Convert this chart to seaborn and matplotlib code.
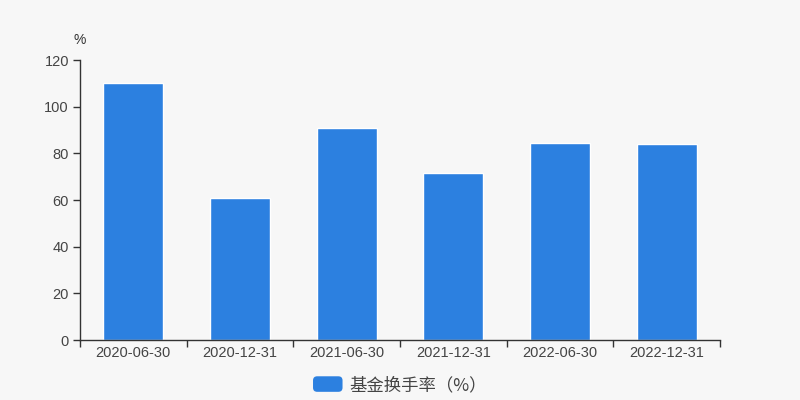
import pandas as pd
import matplotlib.pyplot as plt
import seaborn as sns
from matplotlib.patches import FancyBboxPatch
from matplotlib.legend_handler import HandlerPatch

# fund turnover rate by report date
dates = ['2020-06-30', '2020-12-31', '2021-06-30', '2021-12-31', '2022-06-30', '2022-12-31']
turnover = [110.3, 61.0, 90.7, 71.7, 84.3, 83.9]
y_ticks = [0, 20, 40, 60, 80, 100, 120]
series_name = '基金换手率（%）'

bar_color = '#2c80e0'
bg = '#f7f7f7'
text_color = '#444444'

sns.set_style('white')
plt.rcParams['font.family'] = ['Liberation Sans', 'Noto Sans CJK SC', 'DejaVu Sans']

df = pd.DataFrame({'date': dates, 'rate': turnover})

fig = plt.figure(figsize=(8, 4), dpi=100, facecolor=bg)
ax = fig.add_axes([0.1, 0.15, 0.8, 0.70])
ax.set_facecolor(bg)

sns.barplot(data=df, x='date', y='rate', color=bar_color, width=0.56,
            saturation=1, ax=ax)

ax.set_xlim(-0.5, len(dates) - 0.5)
ax.set_ylim(0, 120)
ax.set_yticks(y_ticks)
ax.set_xlabel('')
ax.set_ylabel('')

# category boundary ticks, labels in the middle
ax.set_xticks([i - 0.5 for i in range(len(dates) + 1)])
ax.set_xticklabels([''] * (len(dates) + 1))
ax.set_xticks(range(len(dates)), minor=True)
ax.set_xticklabels(dates, minor=True)
ax.tick_params(axis='x', which='major', bottom=True, length=5, color='#333333', width=1)
ax.tick_params(axis='x', which='minor', bottom=True, length=0, pad=4,
               labelsize=10.5, labelcolor=text_color)
ax.tick_params(axis='y', left=True, length=5, color='#333333', width=1,
               labelsize=10.5, labelcolor=text_color, pad=3)

for s in ['top', 'right']:
    ax.spines[s].set_visible(False)
for s in ['left', 'bottom']:
    ax.spines[s].set_color('#333333')
    ax.spines[s].set_linewidth(1)

ax.text(0, 1.07, '%', transform=ax.transAxes, ha='center', va='center',
        fontsize=10, color='#333333')


class RoundHandler(HandlerPatch):
    def create_artists(self, legend, orig_handle, xdescent, ydescent,
                       width, height, fontsize, trans):
        p = FancyBboxPatch((-xdescent, -ydescent), width, height,
                           boxstyle='round,pad=0,rounding_size=3',
                           facecolor=bar_color, edgecolor='none', transform=trans)
        return [p]


handle = plt.Rectangle((0, 0), 1, 1, color=bar_color)
leg = fig.legend([handle], [series_name], loc='center', bbox_to_anchor=(0.5, 0.0375),
                 frameon=False, fontsize=12.5, handlelength=1.7, handleheight=1.0,
                 handletextpad=0.4, handler_map={plt.Rectangle: RoundHandler()})
for t in leg.get_texts():
    t.set_color(text_color)
    t.set_family(['Noto Sans CJK SC', 'DejaVu Sans'])

fig.savefig('out.png', dpi=100, facecolor=bg)
